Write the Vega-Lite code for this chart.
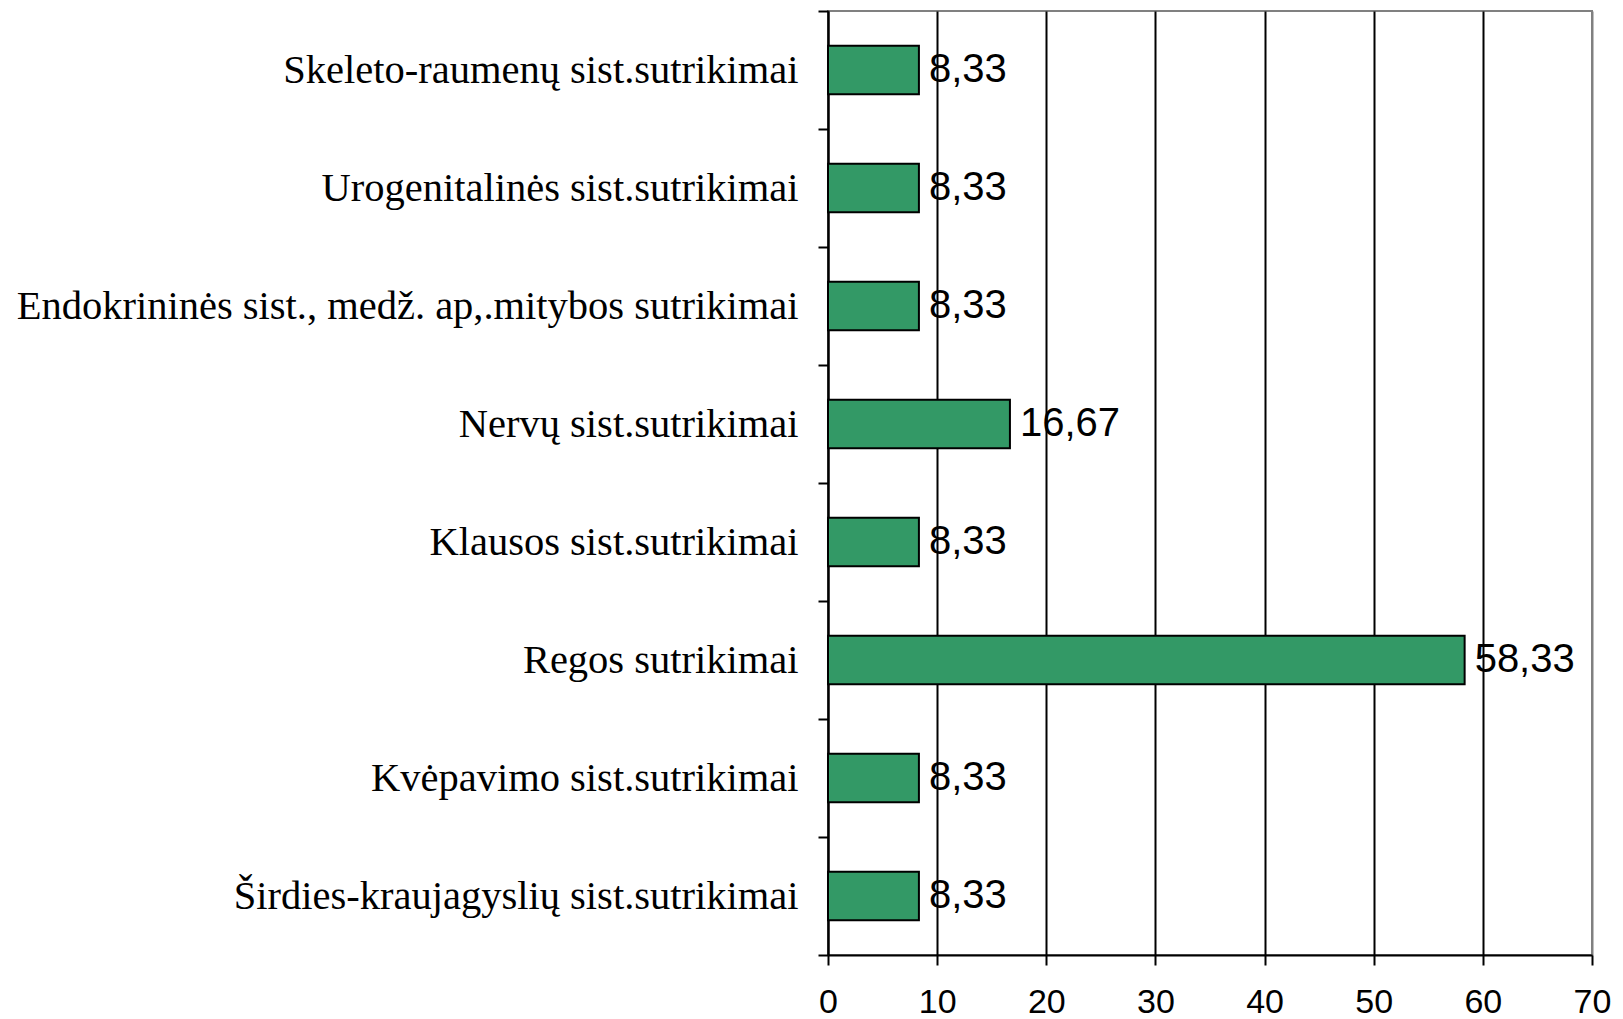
{
  "$schema": "https://vega.github.io/schema/vega-lite/v6.json",
  "autosize": "none",
  "width": 764,
  "height": 944,
  "padding": {"left": 828, "top": 11, "right": 31, "bottom": 64},
  "background": "white",
  "config": {
    "locale": {"number": {"decimal": ",", "thousands": " ", "grouping": [3], "currency": ["", ""]}},
    "view": {"stroke": "#808080", "strokeWidth": 2}
  },
  "data": {
    "values": [
      {"category": "Skeleto-raumenų sist.sutrikimai", "value": 8.33},
      {"category": "Urogenitalinės sist.sutrikimai", "value": 8.33},
      {"category": "Endokrininės sist., medž. ap,.mitybos sutrikimai", "value": 8.33},
      {"category": "Nervų sist.sutrikimai", "value": 16.67},
      {"category": "Klausos sist.sutrikimai\u00a0", "value": 8.33},
      {"category": "Regos sutrikimai", "value": 58.33},
      {"category": "Kvėpavimo sist.sutrikimai", "value": 8.33},
      {"category": "Širdies-kraujagyslių sist.sutrikimai", "value": 8.33}
    ]
  },
  "encoding": {
    "y": {
      "field": "category",
      "type": "nominal",
      "sort": null,
      "scale": {"paddingInner": 0, "paddingOuter": 0},
      "axis": {
        "title": null,
        "tickBand": "extent",
        "domainColor": "black",
        "domainWidth": 2,
        "tickColor": "black",
        "tickWidth": 2,
        "tickSize": 10,
        "labelPadding": 20,
        "labelFont": "Liberation Serif",
        "labelFontSize": 40.5,
        "labelColor": "black",
        "labelLimit": 900
      }
    },
    "x": {
      "field": "value",
      "type": "quantitative",
      "scale": {"domain": [0, 70], "nice": false},
      "axis": {
        "title": null,
        "values": [0, 10, 20, 30, 40, 50, 60, 70],
        "grid": true,
        "gridColor": {"condition": {"test": "datum.value === 70", "value": "#808080"}, "value": "black"},
        "gridWidth": 2,
        "gridOpacity": 1,
        "domainColor": "black",
        "domainWidth": 2,
        "tickColor": "black",
        "tickWidth": 2,
        "tickSize": 10,
        "labelPadding": 20,
        "labelFont": "Liberation Sans",
        "labelFontSize": 34,
        "labelColor": "black",
        "labelFlush": false
      }
    }
  },
  "layer": [
    {
      "mark": {"type": "bar", "color": "#339966", "stroke": "black", "strokeWidth": 2, "height": {"band": 0.41}}
    },
    {
      "mark": {"type": "text", "align": "left", "baseline": "middle", "dx": 10, "font": "Liberation Sans", "fontSize": 40, "color": "black"},
      "encoding": {"text": {"field": "value", "type": "quantitative", "format": ".2f"}}
    }
  ]
}
